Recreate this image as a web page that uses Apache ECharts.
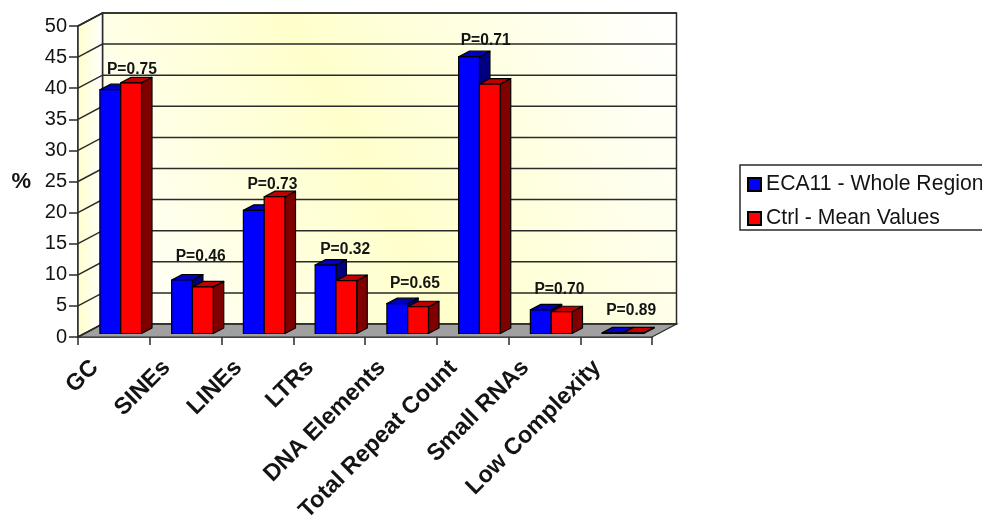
<!DOCTYPE html>
<html>
<head>
<meta charset="utf-8">
<style>html,body{margin:0;padding:0;background:#fff}#chart{width:982px;height:520px}</style>
<script src="https://cdn.jsdelivr.net/npm/echarts@6/dist/echarts.min.js"></script>
</head>
<body>
<div id="chart"></div>
<script>
// Repeat content of the region against control values
const categories = ['GC', 'SINEs', 'LINEs', 'LTRs', 'DNA Elements', 'Total Repeat Count', 'Small RNAs', 'Low Complexity'];
const wholeRegion = [39.2, 8.6, 19.8, 11.0, 4.8, 44.5, 3.8, 0.1];
const controlMean = [40.3, 7.5, 22.0, 8.5, 4.3, 40.1, 3.5, 0.1];
const pValues = ['P=0.75', 'P=0.46', 'P=0.73', 'P=0.32', 'P=0.65', 'P=0.71', 'P=0.70', 'P=0.89'];
const pLabelLevels = [43.0, 12.9, 24.5, 14.05, 8.55, 47.7, 7.6, 4.2];
const yTicks = [0, 5, 10, 15, 20, 25, 30, 35, 40, 45, 50];

// Horizontal placement of each P label relative to its category centre
const pLabelShift = [18, 15, 15, 16, 14, 13, 15, 15];

const FONT = '"Liberation Sans", Arial, sans-serif';
const INK = '#141414';
const RULE = '#2a2a2a';

// Oblique projection of the box: wall depth and bar depth in pixels
const WALL_DX = 24.5, WALL_DY = -13;
const BAR_DX = 10.5, BAR_DY = -5.5;
const BAR_INSET_DY = -3.5;

function renderBox(params, api) {
  const band = api.size([1, 0])[0];
  const p0 = api.coord([0, 0]);
  const p1 = api.coord([categories.length - 1, 50]);
  const left = p0[0] - band / 2, right = p1[0] + band / 2;
  const bottom = p0[1], top = p1[1];
  const line = { stroke: RULE, lineWidth: 1.5, fill: null };
  const children = [
    {
      type: 'rect',
      shape: { x: left + WALL_DX, y: top + WALL_DY, width: right - left, height: bottom - top },
      style: {
        stroke: RULE, lineWidth: 1.5,
        fill: new echarts.graphic.LinearGradient(0, 1, 1, 0, [
          { offset: 0, color: '#ffffff' },
          { offset: 0.47, color: '#ffffcc' },
          { offset: 1, color: '#ffffff' }
        ])
      }
    },
    {
      type: 'polygon',
      shape: { points: [[left, bottom], [left + WALL_DX, bottom + WALL_DY], [left + WALL_DX, top + WALL_DY], [left, top]] },
      style: {
        stroke: RULE, lineWidth: 1.5,
        fill: new echarts.graphic.LinearGradient(0, 0, 1, 0, [
          { offset: 0, color: '#ffffcc' },
          { offset: 1, color: '#ffffff' }
        ])
      }
    },
    {
      type: 'polygon',
      shape: { points: [[left, bottom], [left + WALL_DX, bottom + WALL_DY], [right + WALL_DX, bottom + WALL_DY], [right, bottom]] },
      style: { fill: '#a0a0a0', stroke: RULE, lineWidth: 1.2 }
    }
  ];
  yTicks.forEach(function (t) {
    const y = api.coord([0, t])[1];
    children.push({
      type: 'polyline',
      shape: { points: [[left, y], [left + WALL_DX, y + WALL_DY], [right + WALL_DX, y + WALL_DY]] },
      style: line
    });
  });
  return { type: 'group', children: children };
}

// Each bar is a front face, a top face and a side face
function barRenderer(offsetBands, faces) {
  return function (params, api) {
    const band = api.size([1, 0])[0];
    const idx = api.value(0);
    const val = api.value(1);
    const base = api.coord([idx, 0]);
    const head = api.coord([idx, val]);
    const width = band * 0.29;
    const x0 = base[0] + band * offsetBands;
    const x1 = x0 + width;
    const y0 = base[1] + BAR_INSET_DY;
    const y1 = head[1] + BAR_INSET_DY;
    const edge = { stroke: '#000', lineWidth: 1.2, lineJoin: 'round' };
    return {
      type: 'group',
      children: [
        {
          type: 'polygon',
          shape: { points: [[x1, y0], [x1 + BAR_DX, y0 + BAR_DY], [x1 + BAR_DX, y1 + BAR_DY], [x1, y1]] },
          style: Object.assign({ fill: faces.side }, edge)
        },
        {
          type: 'polygon',
          shape: { points: [[x0, y1], [x0 + BAR_DX, y1 + BAR_DY], [x1 + BAR_DX, y1 + BAR_DY], [x1, y1]] },
          style: Object.assign({ fill: faces.top }, edge)
        },
        {
          type: 'rect',
          shape: { x: x0, y: y1, width: width, height: y0 - y1 },
          style: Object.assign({ fill: faces.front }, edge)
        }
      ]
    };
  };
}

const toPoints = function (values) { return values.map(function (v, i) { return [i, v]; }); };

const chart = echarts.init(document.getElementById('chart'), null, { renderer: 'canvas' });
chart.setOption({
  animation: false,
  backgroundColor: '#ffffff',
  grid: { left: 78, top: 26, width: 574, height: 311, containLabel: false, outerBoundsMode: 'none' },
  legend: {
    left: 740,
    top: 165,
    orient: 'vertical',
    padding: [9, 30, 1, 7],
    itemGap: 13,
    itemWidth: 13,
    itemHeight: 13,
    borderColor: RULE,
    borderWidth: 1.5,
    backgroundColor: '#ffffff',
    icon: 'rect',
    textStyle: { fontFamily: FONT, fontSize: 21.2, color: INK },
    data: ['ECA11 - Whole Region', 'Ctrl - Mean Values']
  },
  xAxis: {
    type: 'category',
    data: categories,
    boundaryGap: true,
    axisLine: { show: true, lineStyle: { color: RULE, width: 1.5 } },
    axisTick: { show: true, length: 8, lineStyle: { color: RULE, width: 1.5 } },
    axisLabel: {
      interval: 0, rotate: 45, margin: 8,
      fontFamily: FONT, fontSize: 23.4, fontWeight: 'bold', color: INK,
      padding: [0, 27, 0, 0]
    },
    splitLine: { show: false }
  },
  yAxis: {
    type: 'value',
    min: 0, max: 50, interval: 5,
    name: '%',
    nameLocation: 'middle',
    nameRotate: 0,
    nameGap: 47,
    nameTextStyle: { fontFamily: FONT, fontSize: 22, fontWeight: 'bold', color: INK },
    axisLine: { show: true, lineStyle: { color: RULE, width: 1.5 } },
    axisTick: { show: true, length: 9, lineStyle: { color: RULE, width: 1.5 } },
    axisLabel: { margin: 11, fontFamily: FONT, fontSize: 20, color: INK, padding: [2, 0, 0, 0] },
    splitLine: { show: false }
  },
  series: [
    {
      name: 'box', type: 'custom', z: 1, silent: true, clip: false,
      data: [[0, 0]], encode: { x: 0, y: 1 },
      renderItem: renderBox
    },
    {
      name: 'ECA11 - Whole Region', type: 'custom', z: 2, clip: false,
      itemStyle: { color: '#0000ff', borderColor: '#000', borderWidth: 1 },
      data: toPoints(wholeRegion), encode: { x: 0, y: 1 },
      renderItem: barRenderer(-0.195, { front: '#0000ff', side: '#000080', top: '#0000c0' })
    },
    {
      name: 'Ctrl - Mean Values', type: 'custom', z: 3, clip: false,
      itemStyle: { color: '#ff0000', borderColor: '#000', borderWidth: 1 },
      data: toPoints(controlMean), encode: { x: 0, y: 1 },
      renderItem: barRenderer(0.095, { front: '#ff0000', side: '#800000', top: '#c00000' })
    },
    {
      name: 'p', type: 'scatter', z: 4, silent: true, clip: false,
      symbolSize: 0,
      itemStyle: { opacity: 1 },
      data: pLabelLevels.map(function (v, i) {
        return { value: [i, v, pValues[i]], label: { offset: [pLabelShift[i], 0] } };
      }),
      label: {
        show: true, position: 'inside',
        formatter: function (d) { return d.value[2]; },
        fontFamily: FONT, fontSize: 15.6, fontWeight: 'bold', color: INK
      }
    }
  ]
});
</script>
</body>
</html>
